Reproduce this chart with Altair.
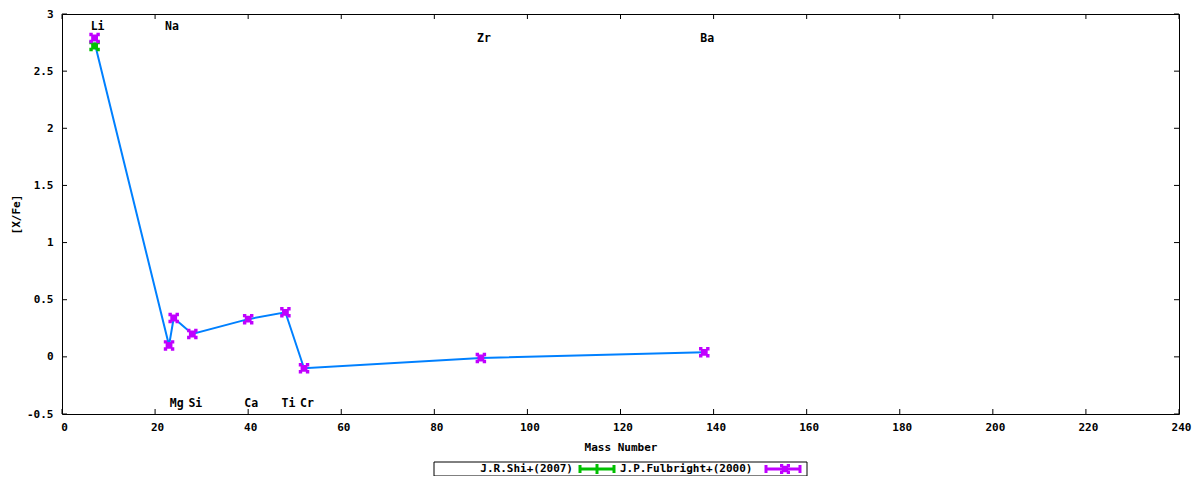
import pandas as pd
import altair as alt

# elements and their mass numbers
elements = ["Li", "Na", "Mg", "Si", "Ca", "Ti", "Cr", "Zr", "Ba"]
mass = [7, 23, 24, 28, 40, 48, 52, 90, 138]

# [X/Fe] values
fulbright = [2.79, 0.10, 0.34, 0.20, 0.33, 0.39, -0.10, -0.01, 0.04]
shi_elements = ["Li"]
shi_mass = [7]
shi = [2.72]
mean_line = [2.75, 0.10, 0.34, 0.20, 0.33, 0.39, -0.10, -0.01, 0.04]

# element label placement (in data units)
label_y = [2.89, 2.89, -0.41, -0.41, -0.41, -0.41, -0.41, 2.785, 2.785]

x_ticks = list(range(0, 241, 20))
y_ticks = [-0.5, 0, 0.5, 1, 1.5, 2, 2.5, 3]

W, H = 1117, 400
FONT = "DejaVu Sans Mono"
GREEN, BLUE, PURPLE = "#00c000", "#0080ff", "#c000ff"
SHAPE = ("M-1,-1H-0.35V-0.65H0.35V-1H1V-0.35H0.65V0.35H1V1H0.35V0.65"
         "H-0.35V1H-1V0.35H-0.65V-0.35H-1Z")

df = pd.DataFrame({"element": elements, "mass": mass, "xfe": fulbright,
                   "mean": mean_line, "label_y": label_y})
shi_df = pd.DataFrame({"element": shi_elements, "mass": shi_mass, "xfe": shi})
xt = pd.DataFrame({"t": x_ticks})
yt = pd.DataFrame({"t": y_ticks})

xscale = alt.Scale(domain=[0, 240], nice=False, zero=False)
yscale = alt.Scale(domain=[-0.5, 3], nice=False, zero=False)

X = alt.X("mass:Q", scale=xscale, title="Mass Number",
          axis=alt.Axis(values=x_ticks, ticks=False, domain=False, grid=False,
                        labelPadding=7, labelOffset=2, titlePadding=9,
                        labelFlush=False))
Y = alt.Y("xfe:Q", scale=yscale, title="[X/Fe]",
          axis=alt.Axis(values=y_ticks, ticks=False, domain=False, grid=False,
                        labelPadding=9, titlePadding=5,
                        labelExpr="toString(datum.value)"))

line = alt.Chart(df).mark_line(color=BLUE, strokeWidth=2).encode(
    x=X, y=alt.Y("mean:Q", scale=yscale)
)
green_pts = alt.Chart(shi_df).mark_point(
    shape=SHAPE, filled=True, size=110, color=GREEN, opacity=1
).encode(x=X, y=Y)
purple_pts = alt.Chart(df).mark_point(
    shape=SHAPE, filled=True, size=110, color=PURPLE, opacity=1
).encode(x=X, y=Y)
labels = alt.Chart(df).mark_text(
    font=FONT, fontSize=11.5, fontWeight="bold", color="black", dx=3
).encode(x=alt.X("mass:Q", scale=xscale), y=alt.Y("label_y:Q", scale=yscale),
         text="element:N")

# gnuplot style inward ticks on all four sides
tick_style = dict(color="black", strokeWidth=1)
bottom_ticks = alt.Chart(xt).mark_rule(**tick_style).encode(
    x=alt.X("t:Q", scale=xscale), y=alt.value(H), y2=alt.value(H - 5))
top_ticks = alt.Chart(xt).mark_rule(**tick_style).encode(
    x=alt.X("t:Q", scale=xscale), y=alt.value(0), y2=alt.value(5))
left_ticks = alt.Chart(yt).mark_rule(**tick_style).encode(
    y=alt.Y("t:Q", scale=yscale), x=alt.value(0), x2=alt.value(5))
right_ticks = alt.Chart(yt).mark_rule(**tick_style).encode(
    y=alt.Y("t:Q", scale=yscale), x=alt.value(W), x2=alt.value(W - 5))

# legend box below the plot
one = pd.DataFrame({"k": [0]})
ly = 455
legend_box = alt.Chart(one).mark_rect(
    fill="white", stroke="black", strokeWidth=1, clip=False
).encode(x=alt.value(372), x2=alt.value(745), y=alt.value(448), y2=alt.value(462))
legend_txt1 = alt.Chart(one).mark_text(
    font=FONT, fontSize=11, fontWeight="bold", align="right", baseline="middle", clip=False
).encode(x=alt.value(511), y=alt.value(ly), text=alt.value("J.R.Shi+(2007)"))
legend_txt2 = alt.Chart(one).mark_text(
    font=FONT, fontSize=11, fontWeight="bold", align="left", baseline="middle", clip=False
).encode(x=alt.value(558), y=alt.value(ly), text=alt.value("J.P.Fulbright+(2000)"))


def legend_sample(x0, x1, color):
    bar = alt.Chart(one).mark_rule(color=color, strokeWidth=3, clip=False).encode(
        x=alt.value(x0), x2=alt.value(x1), y=alt.value(ly))
    capl = alt.Chart(one).mark_rule(color=color, strokeWidth=3, clip=False).encode(
        x=alt.value(x0 + 1), y=alt.value(ly - 4), y2=alt.value(ly + 4))
    capr = alt.Chart(one).mark_rule(color=color, strokeWidth=3, clip=False).encode(
        x=alt.value(x1 - 1), y=alt.value(ly - 4), y2=alt.value(ly + 4))
    return bar + capl + capr


green_sample = legend_sample(517, 553, GREEN) + alt.Chart(one).mark_rule(
    color=GREEN, strokeWidth=3, clip=False).encode(
    x=alt.value(535), y=alt.value(ly - 5), y2=alt.value(ly + 5))
purple_sample = legend_sample(703, 739, PURPLE) + alt.Chart(one).mark_point(
    shape=SHAPE, filled=True, size=100, color=PURPLE, opacity=1, clip=False).encode(
    x=alt.value(723), y=alt.value(ly))

chart = alt.layer(
    bottom_ticks, top_ticks, left_ticks, right_ticks,
    line, green_pts, purple_pts, labels,
    legend_box, legend_txt1, legend_txt2, green_sample, purple_sample,
).properties(
    width=W, height=H, autosize="none",
    padding={"left": 54, "top": 6, "right": 13, "bottom": 62},
).configure_view(
    stroke="black", strokeWidth=1, fill="white"
).configure_axis(
    labelFont=FONT, labelFontSize=11, labelFontWeight="bold", labelColor="black",
    titleFont=FONT, titleFontSize=11, titleFontWeight="bold", titleColor="black",
)

chart.save("out.html", embed_options={"renderer": "svg", "actions": False})
